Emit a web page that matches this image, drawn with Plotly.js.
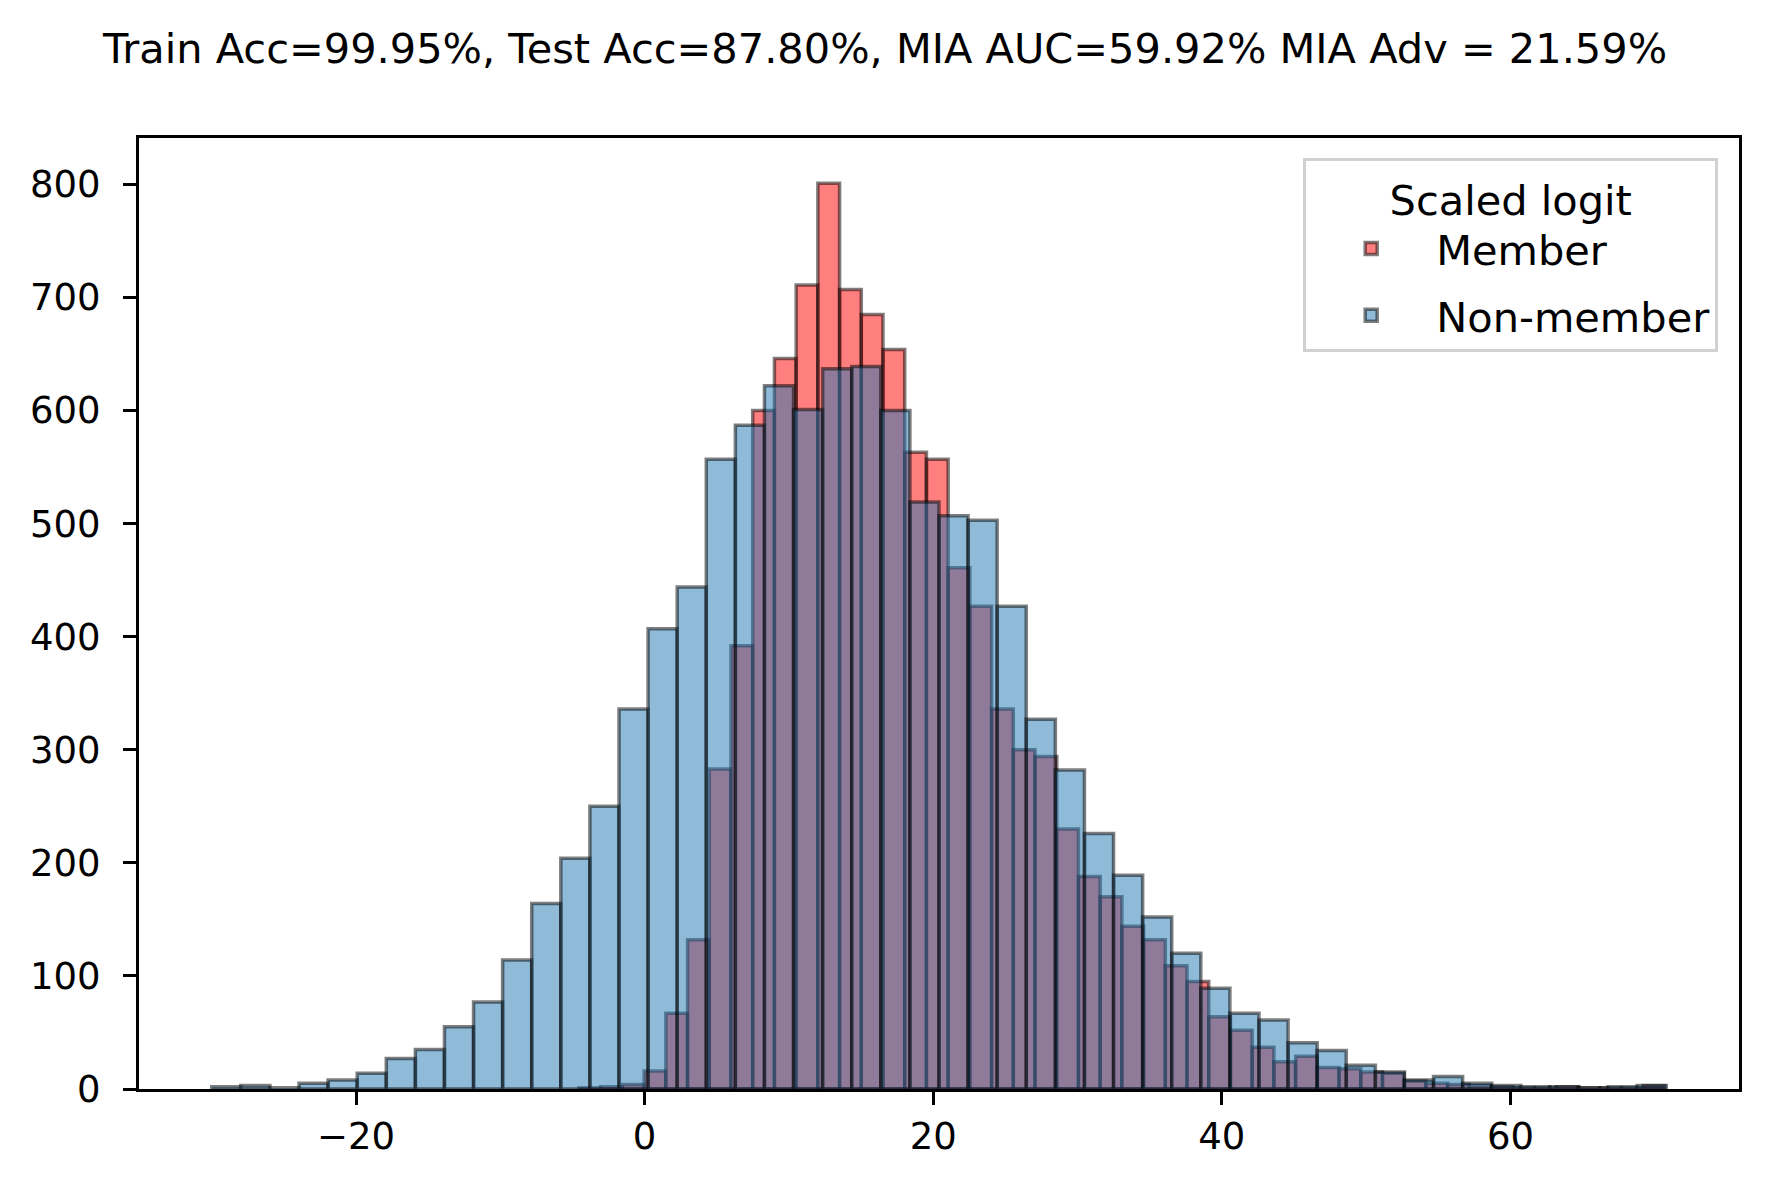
<!DOCTYPE html>
<html><head><meta charset="utf-8">
<script src="https://cdn.plot.ly/plotly-3.0.1.min.js"></script>
<style>html,body{margin:0;padding:0;background:#fff}#chart{width:1770px;height:1191px}</style>
</head><body><div id="chart"></div>
<script>
// Histogram counts (50 bins each)
const memberCounts = [1, 2, 4, 16, 67, 132, 283, 392, 600, 646,
  711, 801, 707, 685, 654, 563, 557, 461, 427, 336,
  300, 294, 230, 188, 170, 144, 132, 109, 95, 64,
  52, 37, 24, 29, 19, 18, 15, 14, 7, 5,
  4, 3, 2, 1, 1, 2, 1, 1, 1, 3];
const nonMemberCounts = [2, 3, 1, 5, 8, 14, 27, 35, 55, 77,
  114, 164, 204, 250, 336, 407, 444, 557, 587, 622,
  601, 637, 639, 600, 519, 507, 503, 427, 327, 282,
  226, 189, 152, 120, 89, 67, 61, 41, 34, 21,
  15, 8, 11, 5, 3, 2, 2, 1, 2, 3];
// Bin definitions (first edge, bin width)
const memberBinStart = -4.55, memberBinWidth = 1.505;
const nonMemberBinStart = -30.0, nonMemberBinWidth = 2.016;
const seriesNames = ['Member', 'Non-member'];
const legendTitle = 'Scaled logit';
const titleText = 'Train Acc=99.95%, Test Acc=87.80%, MIA AUC=59.92% MIA Adv = 21.59%';
const xTickValues = [-20, 0, 20, 40, 60];
const xTickLabels = ['\u221220', '0', '20', '40', '60'];
const yTickValues = [0, 100, 200, 300, 400, 500, 600, 700, 800];
const yTickLabels = ['0', '100', '200', '300', '400', '500', '600', '700', '800'];

function binCenters(start, width, n) {
  return Array.from({length: n}, (_, i) => start + width * (i + 0.5));
}

const font = 'DejaVu Sans, sans-serif';
const edge = {color: 'rgba(0,0,0,0.5)', width: 3.5};

const traces = [
  {
    type: 'bar', name: seriesNames[0], legendgroup: 'member',
    x: binCenters(memberBinStart, memberBinWidth, memberCounts.length),
    y: memberCounts, width: memberBinWidth,
    marker: {color: 'rgba(255,0,0,0.5)', line: edge}
  },
  {
    type: 'bar', name: seriesNames[1], legendgroup: 'nonmember',
    x: binCenters(nonMemberBinStart, nonMemberBinWidth, nonMemberCounts.length),
    y: nonMemberCounts, width: nonMemberBinWidth,
    marker: {color: 'rgba(31,119,180,0.5)', line: edge}
  }
];

const axisCommon = {
  showline: true, mirror: true, linecolor: '#000', linewidth: 3,
  ticks: 'outside', ticklen: 13, tickwidth: 3, tickcolor: '#000',
  showgrid: false, zeroline: false,
  tickfont: {family: font, size: 37, color: '#000'}
};

const layout = {
  width: 1770, height: 1191,
  paper_bgcolor: '#fff', plot_bgcolor: '#fff',
  margin: {l: 139, r: 31, t: 138, b: 102, pad: 0},
  barmode: 'overlay', bargap: 0,
  title: {text: titleText, font: {family: font, size: 41.5, color: '#000'},
          x: 0.5, xanchor: 'center', xref: 'container', y: 0.959, yanchor: 'middle', yref: 'container'},
  xaxis: Object.assign({}, axisCommon, {range: [-35.04, 75.84], tickvals: xTickValues, ticktext: xTickLabels}),
  yaxis: Object.assign({}, axisCommon, {range: [0, 841], tickvals: yTickValues, ticktext: yTickLabels, ticklabelstandoff: 15}),
  showlegend: true,
  legend: {
    x: 0.987, y: 0.979, xanchor: 'right', yanchor: 'top',
    bgcolor: '#fff', bordercolor: 'rgba(204,204,204,0.9)', borderwidth: 3,
    font: {family: font, size: 41.5, color: '#000'},
    title: {text: legendTitle, side: 'top center', font: {family: font, size: 41.5, color: '#000'}},
    itemwidth: 120, traceorder: 'grouped', tracegroupgap: 10
  }
};

Plotly.newPlot('chart', traces, layout, {displayModeBar: false, staticPlot: true});
</script>
</body></html>
